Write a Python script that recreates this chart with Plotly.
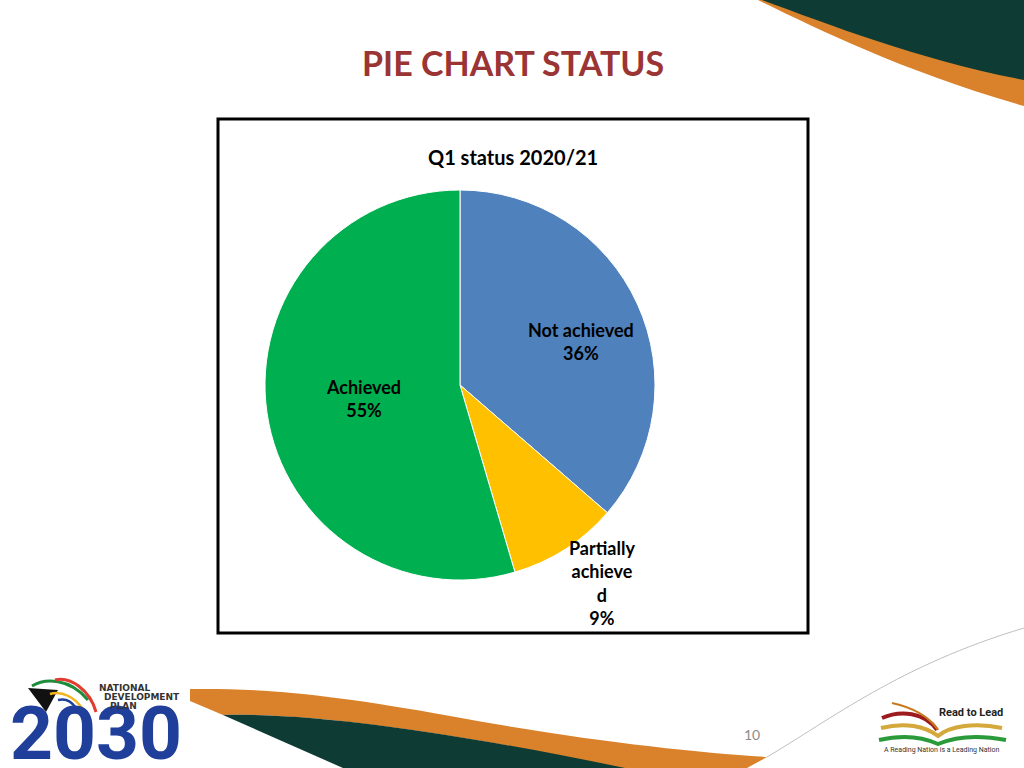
import math
import plotly.graph_objects as go

# ---- data ----
categories = ["Not achieved", "Partially achieved", "Achieved"]
label_text = ["Not achieved", "Partially<br>achieve<br>d", "Achieved"]
values = [4, 1, 6]
colors = ["#4F81BD", "#FFC000", "#00B050"]

slide_title = "PIE CHART STATUS"
chart_title = "Q1 status 2020/21"
page_number = "10"
ndp_lines = ["NATIONAL", "DEVELOPMENT", "PLAN"]

# ---- layout / style constants ----
W, H = 1024, 768
FONT = "Lato, Carlito, Calibri, sans-serif"
PIE_CX, PIE_CY, PIE_R = 460, 385, 195
label_radius = [0.66, 1.25, 0.5]      # data-label distance from centre (fraction of radius)
label_angle_shift = [5.0, -2.8, 0.0]  # degrees, best-fit nudge of each data label


def px(x0, y0, x1, y1):
    return dict(x=[x0 / W, x1 / W], y=[1 - y1 / H, 1 - y0 / H])


fig = go.Figure()

fig.add_trace(go.Pie(
    labels=categories,
    values=values,
    textinfo="none",
    marker=dict(colors=colors, line=dict(color="#FFFFFF", width=1)),
    sort=False,
    direction="clockwise",
    rotation=0,
    hole=0,
    domain=px(PIE_CX - PIE_R, PIE_CY - PIE_R, PIE_CX + PIE_R, PIE_CY + PIE_R),
    showlegend=False,
))

annotations = []
# data labels placed at each slice's mid-angle (computed from the values)
total = sum(values)
cum = 0.0
for v, txt, f, da in zip(values, label_text, label_radius, label_angle_shift):
    mid = (cum + v / 2) / total * 2 * math.pi + math.radians(da)
    cum += v
    lx = PIE_CX + f * PIE_R * math.sin(mid)
    ly = PIE_CY - f * PIE_R * math.cos(mid)
    annotations.append(dict(text=f"<b>{txt}<br>{v / total:.0%}</b>", x=lx, y=ly, xref="x", yref="y",
                            showarrow=False, align="center",
                            font=dict(family=FONT, size=18, color="#000000"),
                            xanchor="center", yanchor="middle"))

shapes = []
# chart frame
shapes.append(dict(type="rect", xref="x", yref="y", x0=218, y0=119, x1=808, y1=633,
                   line=dict(color="#000000", width=3), fillcolor="rgba(0,0,0,0)", layer="above"))

GREEN_D = "#0E3B33"
ORANGE = "#D9822B"

# top-right swoosh
shapes.append(dict(type="path", xref="x", yref="y", layer="below",
                   path="M 758 0 C 820 30 900 70 1024 106 L 1024 0 Z",
                   fillcolor=ORANGE, line=dict(width=0)))
shapes.append(dict(type="path", xref="x", yref="y", layer="below",
                   path="M 762 0 C 830 25 920 60 1024 80 L 1024 0 Z",
                   fillcolor=GREEN_D, line=dict(width=0)))

# bottom wave
shapes.append(dict(type="path", xref="x", yref="y", layer="below",
                   path="M 190 689 C 260 688 330 694 450 716 C 580 740 690 752 767 757 "
                        "L 747 768 L 620 768 C 500 742 330 712 223 715 L 190 701 Z",
                   fillcolor=ORANGE, line=dict(width=0)))
shapes.append(dict(type="path", xref="x", yref="y", layer="below",
                   path="M 223 715 C 330 712 500 742 625 768 L 343 768 Z",
                   fillcolor=GREEN_D, line=dict(width=0)))
# thin grey line
shapes.append(dict(type="path", xref="x", yref="y", layer="below",
                   path="M 767 757 C 830 720 900 665 1024 628",
                   line=dict(color="#BFBFBF", width=1)))

# NDP logo flag marks (approximate)
shapes.append(dict(type="path", xref="x", yref="y",
                   path="M 28 688 L 58 690 L 46 712 Z", fillcolor="#111111", line=dict(width=0)))
shapes.append(dict(type="path", xref="x", yref="y",
                   path="M 32 686 C 45 678 70 678 88 700", line=dict(color="#1E8C3A", width=3)))
shapes.append(dict(type="path", xref="x", yref="y",
                   path="M 55 680 C 70 676 90 690 96 712", line=dict(color="#E03C31", width=3)))
shapes.append(dict(type="path", xref="x", yref="y",
                   path="M 50 694 C 62 690 75 698 82 708", line=dict(color="#F2B51B", width=2.5)))
shapes.append(dict(type="path", xref="x", yref="y",
                   path="M 58 700 C 66 698 72 702 76 708", line=dict(color="#1F3F9B", width=2.5)))

# Read to Lead logo book arcs (approximate)
shapes.append(dict(type="path", xref="x", yref="y",
                   path="M 882 718 C 900 710 925 712 937 730", line=dict(color="#9B1B1E", width=4)))
shapes.append(dict(type="path", xref="x", yref="y",
                   path="M 892 703 C 915 708 930 718 938 730", line=dict(color="#C8791E", width=2)))
shapes.append(dict(type="path", xref="x", yref="y",
                   path="M 881 728 C 905 722 925 726 938 736 C 950 726 975 722 1002 728",
                   line=dict(color="#D4A83A", width=4)))
shapes.append(dict(type="path", xref="x", yref="y",
                   path="M 879 740 C 905 734 925 738 938 744 C 952 738 975 734 1006 740",
                   line=dict(color="#2A9A3A", width=4)))

annotations += [
    dict(text=f"<b>{slide_title}</b>", x=513, y=62, xref="x", yref="y", showarrow=False,
         font=dict(family=FONT, size=34, color="#9B3535"), xanchor="center", yanchor="middle"),
    dict(text=f"<b>{chart_title}</b>", x=513, y=157, xref="x", yref="y", showarrow=False,
         font=dict(family=FONT, size=20, color="#000000"), xanchor="center", yanchor="middle"),
    dict(text=page_number, x=752, y=734, xref="x", yref="y", showarrow=False,
         font=dict(family=FONT, size=14, color="#8C8C8C"), xanchor="center", yanchor="middle"),
    dict(text="<b>2030</b>", x=96, y=733, xref="x", yref="y", showarrow=False,
         font=dict(family="Roboto, sans-serif", size=75, color="#1F3F9B"),
         xanchor="center", yanchor="middle"),
    dict(text="<b>Read to Lead</b>", x=1005, y=712, xref="x", yref="y", showarrow=False,
         font=dict(family="Roboto, sans-serif", size=11, color="#222222"),
         xanchor="right", yanchor="middle"),
    dict(text="A Reading Nation is a Leading Nation", x=942, y=750, xref="x", yref="y", showarrow=False,
         font=dict(family="Roboto, sans-serif", size=7, color="#333333"),
         xanchor="center", yanchor="middle"),
]
ndp_x = [97, 102, 108]
for i, line in enumerate(ndp_lines):
    annotations.append(dict(text=f"<b>{line}</b>", x=ndp_x[i], y=688 + 9 * i, xref="x", yref="y",
                            showarrow=False, align="left",
                            font=dict(family="DejaVu Sans, sans-serif", size=9, color="#333333"),
                            xanchor="left", yanchor="middle"))

fig.update_layout(
    width=W, height=H,
    margin=dict(l=0, r=0, t=0, b=0),
    paper_bgcolor="#FFFFFF",
    plot_bgcolor="rgba(0,0,0,0)",
    xaxis=dict(range=[0, W], visible=False, fixedrange=True),
    yaxis=dict(range=[H, 0], visible=False, fixedrange=True),
    shapes=shapes,
    annotations=annotations,
    showlegend=False,
)

fig.write_html("out.html", config={"displayModeBar": False},
               post_script="document.body.style.margin='0';document.body.style.overflow='hidden';")
